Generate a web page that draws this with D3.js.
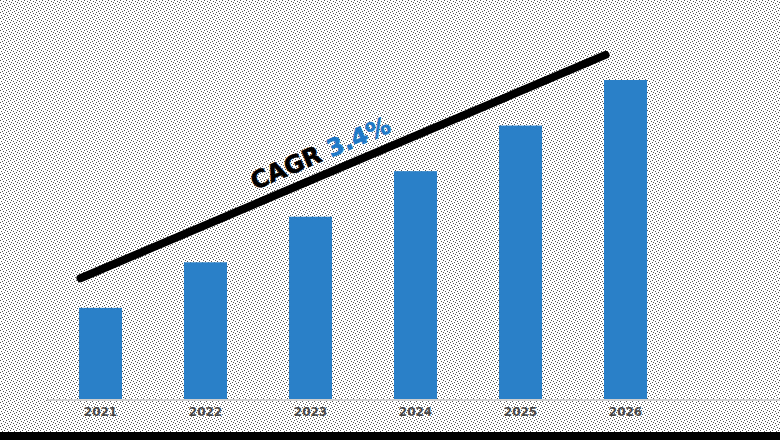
<!DOCTYPE html>
<html>
<head>
<meta charset="utf-8">
<script src="https://cdn.jsdelivr.net/npm/d3@7"></script>
<style>
  body { margin: 0; background: #fff; }
  svg { display: block; }
</style>
</head>
<body>
<svg id="chart" width="780" height="440"></svg>
<script>
// chart data
const years = ['2021', '2022', '2023', '2024', '2025', '2026']
const values = [2.0, 3.0, 4.0, 5.0, 6.0, 7.0]
const trend = [{ x: '2021', v: 2.65 }, { x: '2026', v: 7.55 }]
const cagrLabel = 'CAGR'
const cagrValue = '3.4%'

const width = 780
const height = 440
const svg = d3.select('#chart')

// speckled backdrop
const defs = svg.append('defs')
const pat = defs.append('pattern')
    .attr('id', 'speckle')
    .attr('width', 6)
    .attr('height', 6)
    .attr('patternUnits', 'userSpaceOnUse')
pat.append('rect').attr('width', 6).attr('height', 6).attr('fill', '#ffffff')
const dots = [[0, 0], [3, 1], [1, 3], [4, 4], [5, 2], [2, 5]]
pat.selectAll('rect.d').data(dots).enter().append('rect')
    .attr('class', 'd')
    .attr('x', d => d[0])
    .attr('y', d => d[1])
    .attr('width', 1)
    .attr('height', 1)
    .attr('fill', '#555')
svg.append('rect').attr('width', width).attr('height', height).attr('fill', 'url(#speckle)')

const x = d3.scaleBand()
    .domain(years)
    .range([17, 709])
    .paddingInner(0.59)
    .paddingOuter(0.59)

const y = d3.scaleLinear()
    .domain([0, 7])
    .range([399, 80])

// bars
svg.append('g').selectAll('rect')
    .data(years)
    .enter()
    .append('rect')
    .attr('x', d => x(d))
    .attr('y', (d, i) => y(values[i]))
    .attr('width', x.bandwidth())
    .attr('height', (d, i) => y(0) - y(values[i]))
    .attr('fill', '#2a80c8')

// baseline axis
const axis = svg.append('g').attr('transform', 'translate(0,' + y(0) + ')')
    .call(d3.axisBottom(x).tickSize(0).tickPadding(8))
axis.select('.domain').remove()
axis.append('line')
    .attr('x1', 47)
    .attr('x2', width)
    .attr('y1', 1)
    .attr('y2', 1)
    .attr('stroke', '#cfcfcf')
    .attr('stroke-width', 2)
axis.selectAll('text')
    .attr('font-size', '12px')
    .attr('font-family', 'DejaVu Sans')
    .attr('font-weight', 'bold')
    .attr('fill', '#4a4a4a')

// bottom strip
svg.append('rect')
    .attr('x', 0)
    .attr('y', 432)
    .attr('width', width)
    .attr('height', 8)
    .attr('fill', '#000')

// trend line
const tx = d => x(d) + x.bandwidth() / 2 - 20
const p0 = [tx(trend[0].x), y(trend[0].v)]
const p1 = [tx(trend[1].x), y(trend[1].v)]
svg.append('line')
    .attr('x1', p0[0])
    .attr('y1', p0[1])
    .attr('x2', p1[0])
    .attr('y2', p1[1])
    .attr('stroke', '#000')
    .attr('stroke-width', 8)
    .attr('stroke-linecap', 'round')

// cagr label along the line
const angle = Math.atan2(p1[1] - p0[1], p1[0] - p0[0]) * 180 / Math.PI
const t = (260 - p0[0]) / (p1[0] - p0[0])
const lx = p0[0] + t * (p1[0] - p0[0])
const ly = p0[1] + t * (p1[1] - p0[1])
const label = svg.append('text')
    .attr('transform', 'translate(' + lx + ',' + ly + ') rotate(' + angle + ')')
    .attr('y', -13)
    .attr('font-size', '24px')
    .attr('font-family', 'DejaVu Sans')
    .attr('font-weight', 'bold')
    .attr('stroke-width', 0.6)
label.append('tspan').attr('fill', '#000').attr('stroke', '#000').text(cagrLabel + ' ')
label.append('tspan').attr('fill', '#1f7ac8').attr('stroke', '#1f7ac8').text(cagrValue)
</script>
</body>
</html>
